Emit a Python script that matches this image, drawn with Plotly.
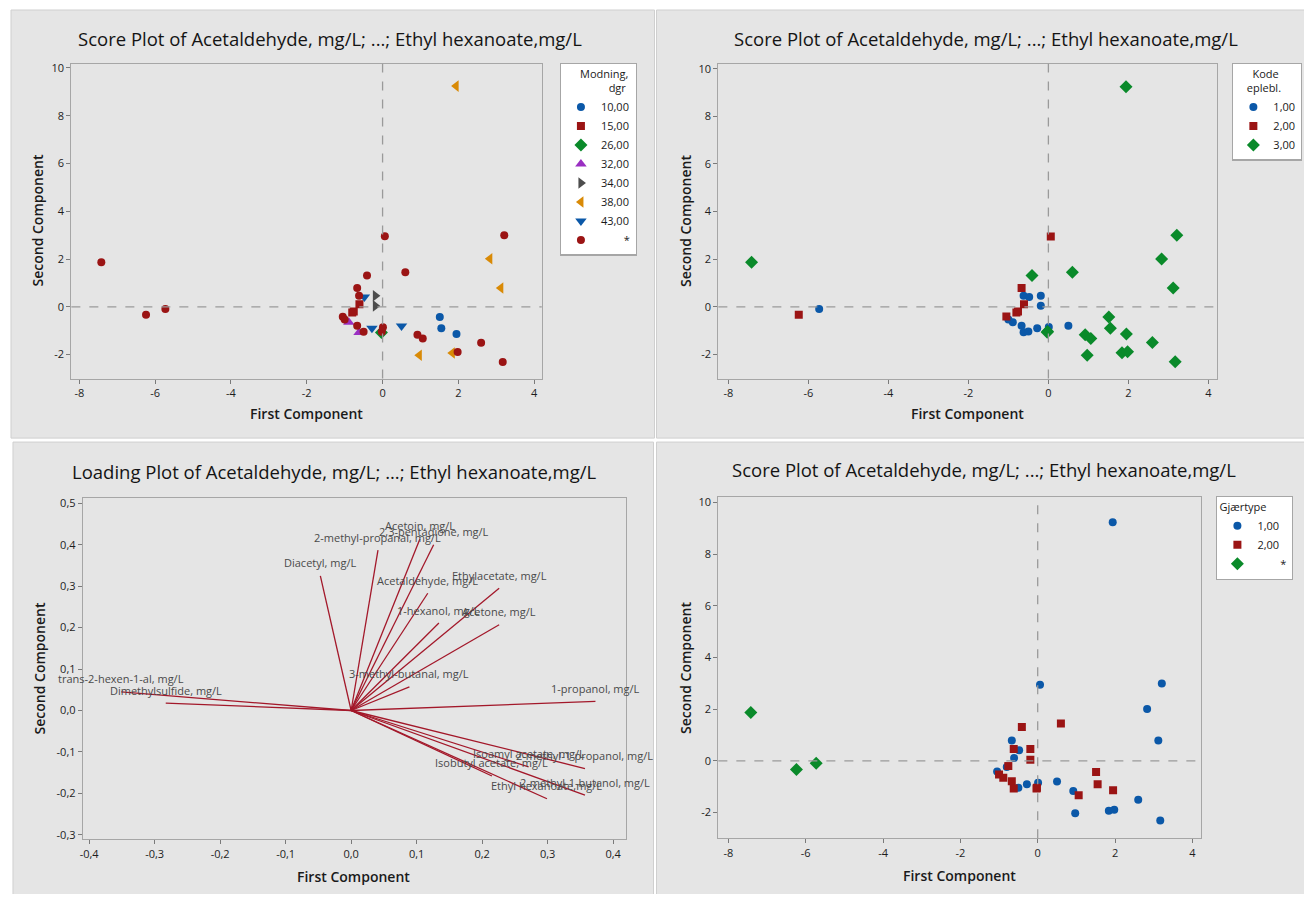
import plotly.graph_objects as go

# ---------------- data ----------------
PC1 = [-7.42, -6.24, -5.73, 1.94, 0.06, 3.21, 2.83, 3.12, 0.60, -0.41,
       -0.67, -0.62, -0.48, -0.19, -0.19, -0.61, -0.76, -1.05, -1.00, -0.89,
       -0.67, -0.62, -0.50, -0.28, 0.01, -0.02, 0.50, 1.51, 1.55, 1.95,
       0.92, 1.06, 2.60, 0.97, 1.84, 1.98, 3.17, -0.03, -0.80]
PC2 = [1.87, -0.33, -0.09, 9.24, 2.95, 3.00, 2.01, 0.79, 1.45, 1.31,
       0.79, 0.46, 0.41, 0.46, 0.04, 0.11, -0.20, -0.41, -0.53, -0.65,
       -0.79, -1.07, -1.04, -0.90, -0.85, -1.04, -0.80, -0.43, -0.90, -1.14,
       -1.17, -1.33, -1.50, -2.03, -1.93, -1.89, -2.31, -1.07, -0.24]
MODNING = ["*", "*", "*", "38,00", "*", "*", "38,00", "38,00", "*", "*",
           "*", "*", "43,00", "34,00", "34,00", "15,00", "15,00", "*", "*", "32,00",
           "*", "32,00", "*", "43,00", "*", "*", "43,00", "10,00", "10,00", "10,00",
           "*", "*", "*", "38,00", "38,00", "*", "*", "26,00", "15,00"]
KODE = ["3,00", "2,00", "1,00", "3,00", "2,00", "3,00", "3,00", "3,00", "3,00", "3,00",
        "2,00", "1,00", "1,00", "1,00", "1,00", "2,00", "2,00", "2,00", "1,00", "1,00",
        "1,00", "1,00", "1,00", "1,00", "1,00", "3,00", "1,00", "3,00", "3,00", "3,00",
        "3,00", "3,00", "3,00", "3,00", "3,00", "3,00", "3,00", "3,00", "2,00"]
GJAERTYPE = ["*", "*", "*", "1,00", "1,00", "1,00", "1,00", "1,00", "2,00", "2,00",
             "1,00", "2,00", "1,00", "2,00", "2,00", "1,00", "2,00", "1,00", "2,00", "2,00",
             "2,00", "2,00", "1,00", "1,00", "1,00", "2,00", "1,00", "2,00", "2,00", "2,00",
             "1,00", "2,00", "1,00", "1,00", "1,00", "1,00", "1,00", "2,00", "1,00"]

MODNING_LEVELS = ["10,00", "15,00", "26,00", "32,00", "34,00", "38,00", "43,00", "*"]
KODE_LEVELS = ["1,00", "2,00", "3,00"]
GJAER_LEVELS = ["1,00", "2,00", "*"]

LOAD_NAMES = ["Diacetyl, mg/L", "2-methyl-propanal, mg/L", "Acetoin, mg/L",
              "2,3-pentadione, mg/L", "Acetaldehyde, mg/L", "Ethylacetate, mg/L",
              "1-hexanol, mg/L", "Acetone, mg/L", "3-methyl-butanal, mg/L",
              "1-propanol, mg/L", "trans-2-hexen-1-al, mg/L", "Dimethylsulfide, mg/L",
              "Isoamyl acetate, mg/L", "2-methyl-1-propanol, mg/L", "Isobutyl acetate, mg/L",
              "2-methyl-1-butanol, mg/L", "Ethyl hexanoate,mg/L"]
LOAD_PC1 = [-0.047, 0.041, 0.105, 0.126, 0.117, 0.226, 0.134, 0.226, 0.089,
            0.373, -0.351, -0.283, 0.271, 0.357, 0.215, 0.357, 0.299]
LOAD_PC2 = [0.325, 0.387, 0.414, 0.400, 0.283, 0.295, 0.211, 0.207, 0.057,
            0.022, 0.045, 0.018, -0.136, -0.140, -0.158, -0.204, -0.213]

SCORE_XTICKS = [-8, -6, -4, -2, 0, 2, 4]
SCORE_YTICKS = [-2, 0, 2, 4, 6, 8, 10]
LOAD_XTICKS = [-0.4, -0.3, -0.2, -0.1, 0.0, 0.1, 0.2, 0.3, 0.4]
LOAD_YTICKS = [-0.3, -0.2, -0.1, 0.0, 0.1, 0.2, 0.3, 0.4, 0.5]

TITLE_SCORE = "Score Plot of Acetaldehyde, mg/L; ...; Ethyl hexanoate,mg/L"
TITLE_LOAD = "Loading Plot of Acetaldehyde, mg/L; ...; Ethyl hexanoate,mg/L"

# ---------------- styling ----------------
BLUE = "#0b58a8"
RED = "#9b1414"
GREEN = "#0a8a2a"
PURPLE = "#9a2fc2"
GREY = "#4d4d4d"
ORANGE = "#d98a06"

MODNING_STYLE = {
    "10,00": (BLUE, "circle", 8),
    "15,00": (RED, "square", 8),
    "26,00": (GREEN, "diamond", 10),
    "32,00": (PURPLE, "triangle-up", 10),
    "34,00": (GREY, "triangle-right", 10),
    "38,00": (ORANGE, "triangle-left", 10),
    "43,00": (BLUE, "triangle-down", 10),
    "*": (RED, "circle", 8),
}
KODE_STYLE = {
    "1,00": (BLUE, "circle", 8),
    "2,00": (RED, "square", 8),
    "3,00": (GREEN, "diamond", 10),
}
GJAER_STYLE = {
    "1,00": (BLUE, "circle", 8),
    "2,00": (RED, "square", 8),
    "*": (GREEN, "diamond", 10),
}

FONT = "Open Sans"
W, H = 1296, 886
OFF = 8  # body margin of the html page


def px(xr):
    return (xr - OFF) / W


def py(yr):
    return 1 - (yr - OFF) / H


def legend_label(lbl):
    if lbl == "*":
        return "\u00a0" * 8 + "*"
    return lbl


fig = go.Figure()


def add_score(groups, levels, styles, xa, ya, legend):
    for lvl in levels:
        xs = [x for x, g in zip(PC1, groups) if g == lvl]
        ys = [y for y, g in zip(PC2, groups) if g == lvl]
        col, sym, size = styles[lvl]
        fig.add_trace(go.Scatter(
            x=xs, y=ys, mode="markers", name=legend_label(lvl),
            marker=dict(color=col, symbol=sym, size=size, line=dict(width=0)),
            xaxis=xa, yaxis=ya, legend=legend, showlegend=True,
        ))


add_score(MODNING, MODNING_LEVELS, MODNING_STYLE, "x", "y", "legend")
add_score(KODE, KODE_LEVELS, KODE_STYLE, "x2", "y2", "legend2")
add_score(GJAERTYPE, GJAER_LEVELS, GJAER_STYLE, "x4", "y4", "legend3")

# loading vectors
lx, ly = [], []
for a, b in zip(LOAD_PC1, LOAD_PC2):
    lx += [0, a, None]
    ly += [0, b, None]
fig.add_trace(go.Scatter(x=lx, y=ly, mode="lines", line=dict(color="#a3182a", width=1.3),
                         xaxis="x3", yaxis="y3", showlegend=False, hoverinfo="skip"))

annotations = []
for name, a, b in zip(LOAD_NAMES, LOAD_PC1, LOAD_PC2):
    annotations.append(dict(x=a, y=b, xref="x3", yref="y3", text=name, showarrow=False,
                            xanchor="center", yanchor="middle", yshift=13,
                            font=dict(family=FONT, size=11, color="#4a4a4a")))

# panel backgrounds (in reference pixel coordinates)
PANELS = [(8, 6, 653, 437), (655, 6, 1312, 437), (10, 441, 652, 902), (655, 441, 1312, 902)]
shapes = []
for x0, y0, x1, y1 in PANELS:
    shapes.append(dict(type="rect", xref="paper", yref="paper", x0=px(x0), x1=px(x1),
                       y0=py(y1), y1=py(y0), fillcolor="#e5e5e5",
                       line=dict(color="#cfcfcf", width=1), layer="below"))

# dashed reference lines for score plots
for xa, ya in [("x", "y"), ("x2", "y2"), ("x4", "y4")]:
    shapes.append(dict(type="line", xref=xa, yref=ya + " domain", x0=0, x1=0, y0=0, y1=1,
                       line=dict(color="#9a9a9a", width=1.3, dash="dash")))
    shapes.append(dict(type="line", xref=xa + " domain", yref=ya, x0=0, x1=1, y0=0, y1=0,
                       line=dict(color="#9a9a9a", width=1.3, dash="dash")))

# plot area definitions (reference pixels)
AREAS = {
    "1": (68.5, 60, 540, 377, [-8.21, 4.2], [-3.0, 10.18]),
    "2": (717, 60, 1217, 377, [-8.25, 4.22], [-3.01, 10.21]),
    "3": (80, 497, 624, 841, [-0.4096, 0.419], [-0.311, 0.5136]),
    "4": (717, 496, 1201, 840, [-8.26, 4.23], [-3.0, 10.23]),
}


def axis_common():
    return dict(showline=True, mirror=True, linecolor="#a6a6a6", linewidth=1.2,
                ticks="outside", ticklen=4, tickcolor="#7a7a7a", showgrid=False,
                zeroline=False, tickfont=dict(family=FONT, size=11, color="#1e1e1e"))


layout_axes = {}
for key, (x0, y0, x1, y1, xr, yr) in AREAS.items():
    suffix = "" if key == "1" else key
    if key == "3":
        xt, yt = LOAD_XTICKS, LOAD_YTICKS
        xtt = [f"{v:.1f}".replace(".", ",") for v in xt]
        ytt = [f"{v:.1f}".replace(".", ",") for v in yt]
    else:
        xt, yt = SCORE_XTICKS, SCORE_YTICKS
        xtt = [str(v) for v in xt]
        ytt = [str(v) for v in yt]
    xa = axis_common()
    xa.update(domain=[px(x0), px(x1)], range=xr, tickvals=xt, ticktext=xtt,
              anchor="y" + suffix)
    ya = axis_common()
    ya.update(domain=[py(y1), py(y0)], range=yr, tickvals=yt, ticktext=ytt,
              anchor="x" + suffix)
    layout_axes["xaxis" + suffix] = xa
    layout_axes["yaxis" + suffix] = ya

# titles and axis titles
TITLES = [(TITLE_SCORE, 328, 35), (TITLE_SCORE, 985, 35), (TITLE_LOAD, 332, 471), (TITLE_SCORE, 983, 469)]
for t, x, y in TITLES:
    annotations.append(dict(x=px(x), y=py(y), xref="paper", yref="paper", text=t,
                            showarrow=False, xanchor="center", yanchor="middle",
                            font=dict(family=FONT, size=18.5, color="#141414")))
XTITLES = [(304, 412), (967, 412), (351, 878), (959, 877)]
YTITLES = [(35, 218), (684, 218), (37, 669), (684, 668)]
for x, y in XTITLES:
    annotations.append(dict(x=px(x), y=py(y), xref="paper", yref="paper", text="First Component",
                            showarrow=False, xanchor="center", yanchor="middle",
                            font=dict(family=FONT, size=14, color="#1a1a1a", weight=600)))
for x, y in YTITLES:
    annotations.append(dict(x=px(x), y=py(y), xref="paper", yref="paper", text="Second Component",
                            showarrow=False, xanchor="center", yanchor="middle", textangle=-90,
                            font=dict(family=FONT, size=14, color="#1a1a1a", weight=600)))


def legend_cfg(title, x, y):
    return dict(title=dict(text=title, font=dict(family=FONT, size=11, color="#1a1a1a")),
                x=px(x), y=py(y), xanchor="left", yanchor="top", xref="paper", yref="paper",
                bgcolor="white", bordercolor="#a6a6a6", borderwidth=1.2,
                font=dict(family=FONT, size=11, color="#1a1a1a"), itemsizing="trace",
                tracegroupgap=0)


fig.update_layout(
    width=W, height=H, margin=dict(l=0, r=0, t=0, b=0),
    paper_bgcolor="white", plot_bgcolor="white",
    font=dict(family=FONT),
    shapes=shapes, annotations=annotations,
    legend=legend_cfg("\u00a0" * 6 + "Modning,<br>" + "\u00a0" * 16 + "dgr", 558, 59),
    legend2=legend_cfg("\u00a0" * 6 + "Kode<br>" + "\u00a0" * 4 + "eplebl.", 1232, 59),
    legend3=legend_cfg("Gjærtype", 1216, 495),
    **layout_axes,
)

fig.write_html("out.html")
